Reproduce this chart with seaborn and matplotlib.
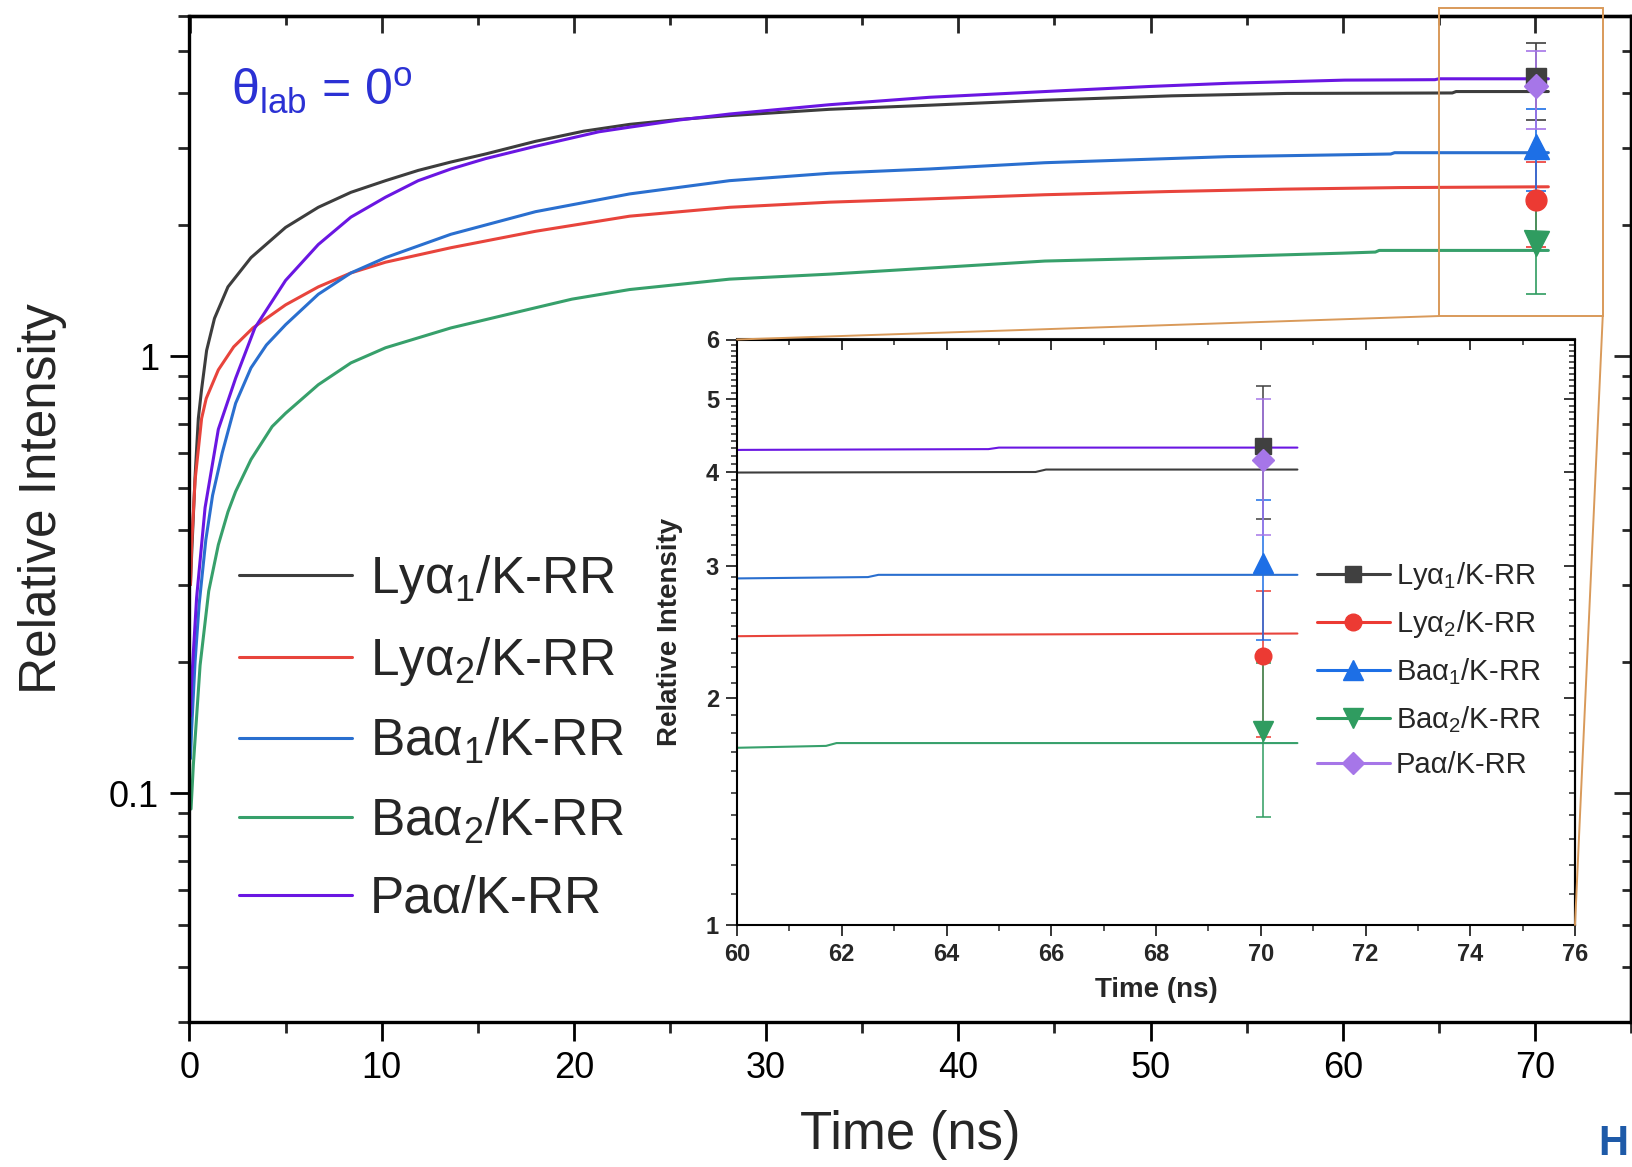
import numpy as np
import pandas as pd
import matplotlib
matplotlib.use("Agg")
import matplotlib.pyplot as plt
from matplotlib.lines import Line2D
from matplotlib.patches import Rectangle, ConnectionPatch
from matplotlib.ticker import (MultipleLocator, FixedLocator, LogLocator,
                               NullFormatter, FuncFormatter)
import seaborn as sns

# ------------------------------------------------------------------
# Data: simulated intensity ratios versus time (ns)
# ------------------------------------------------------------------
labels = ["Ly\u03b1$_{1}$/K-RR", "Ly\u03b1$_{2}$/K-RR", "Ba\u03b1$_{1}$/K-RR",
          "Ba\u03b1$_{2}$/K-RR", "Pa\u03b1/K-RR"]

t_ly1 = [0.05, 0.11, 0.29, 0.46, 0.63, 0.89, 1.3, 2.0, 3.2, 5.0, 6.7, 8.4, 10.2,
         11.9, 13.6, 15.4, 18.0, 20.5, 22.9, 25.5, 28.1, 33.3, 38.5, 44.5, 51.1,
         57.1, 65.7, 65.9, 70.7]
i_ly1 = [0.30, 0.35, 0.53, 0.72, 0.84, 1.03, 1.22, 1.44, 1.68, 1.97, 2.19, 2.37,
         2.52, 2.66, 2.78, 2.90, 3.10, 3.27, 3.39, 3.48, 3.55, 3.67, 3.75, 3.85,
         3.94, 3.99, 4.00, 4.03, 4.03]

t_ly2 = [0.05, 0.11, 0.29, 0.63, 0.87, 1.5, 2.3, 3.3, 5.0, 6.7, 8.4, 10.2, 13.6,
         18.0, 22.9, 28.1, 33.3, 38.5, 44.5, 51.0, 57.0, 63.0, 70.7]
i_ly2 = [0.30, 0.37, 0.52, 0.72, 0.80, 0.93, 1.05, 1.16, 1.31, 1.44, 1.55, 1.64,
         1.77, 1.93, 2.09, 2.19, 2.25, 2.29, 2.34, 2.38, 2.41, 2.43, 2.44]

t_ba1 = [0.05, 0.11, 0.29, 0.5, 0.85, 1.2, 1.7, 2.4, 3.2, 4.0, 5.0, 6.7, 8.4,
         10.2, 13.6, 18.0, 22.9, 28.1, 33.3, 38.5, 44.5, 54.0, 62.5, 62.7, 70.7]
i_ba1 = [0.12, 0.14, 0.20, 0.27, 0.38, 0.48, 0.60, 0.78, 0.94, 1.06, 1.18, 1.385,
         1.55, 1.68, 1.90, 2.14, 2.35, 2.52, 2.62, 2.68, 2.77, 2.86, 2.90, 2.92,
         2.92]

t_ba2 = [0.08, 0.2, 0.55, 1.0, 1.5, 2.0, 2.4, 3.2, 4.3, 5.0, 6.7, 8.4, 10.2,
         13.6, 18.0, 19.9, 22.9, 28.1, 33.3, 38.5, 44.5, 54.0, 60.0, 61.7, 61.9,
         70.7]
i_ba2 = [0.092, 0.116, 0.196, 0.29, 0.37, 0.44, 0.49, 0.58, 0.69, 0.74, 0.86,
         0.965, 1.045, 1.16, 1.29, 1.35, 1.42, 1.50, 1.54, 1.59, 1.65, 1.69,
         1.72, 1.73, 1.745, 1.745]

t_pa = [0.05, 0.11, 0.37, 0.81, 1.5, 2.4, 3.4, 5.0, 6.7, 8.4, 10.2, 11.9, 13.6,
        15.4, 18.0, 21.3, 22.9, 25.5, 28.1, 33.3, 38.5, 45.0, 50.0, 54.1, 60.1,
        64.8, 65.0, 70.7]
i_pa = [0.15, 0.18, 0.28, 0.45, 0.68, 0.89, 1.16, 1.49, 1.80, 2.08, 2.31, 2.52,
        2.68, 2.83, 3.02, 3.26, 3.34, 3.47, 3.58, 3.76, 3.91, 4.04, 4.14, 4.21,
        4.28, 4.29, 4.31, 4.31]

# measured ratios at the end of the observation window
t_meas = 70.05
meas_val = [4.33, 2.28, 3.03, 1.81, 4.15]
meas_err = [0.87, 0.50, 0.64, 0.42, 0.85]

# ------------------------------------------------------------------
# Styling
# ------------------------------------------------------------------
line_colors = ["#3d3d3d", "#e8443c", "#2a6fcf", "#37a06b", "#6a16e2"]
mark_colors = ["#404040", "#ec3a33", "#1d6fe6", "#2f9c60", "#a676e8"]
markers = ["s", "o", "^", "v", "D"]
ms_main = [15, 15, 18, 18, 12]
ms_inset = [11, 12, 15, 15, 11]
zoom_color = "#d99a5a"

sns.set_style("ticks")
plt.rcParams["font.family"] = ["Liberation Sans", "DejaVu Sans"]
plt.rcParams["mathtext.fontset"] = "custom"
plt.rcParams["mathtext.rm"] = "Liberation Sans"
plt.rcParams["mathtext.it"] = "Liberation Sans:italic"
plt.rcParams["mathtext.bf"] = "Liberation Sans:bold"

curves = pd.concat(
    [pd.DataFrame({"Time (ns)": t, "Relative Intensity": v, "ratio": lab})
     for lab, t, v in zip(labels,
                          [t_ly1, t_ly2, t_ba1, t_ba2, t_pa],
                          [i_ly1, i_ly2, i_ba1, i_ba2, i_pa])],
    ignore_index=True)
palette = dict(zip(labels, line_colors))

W, H = 1633, 1167
fig = plt.figure(figsize=(W / 100, H / 100), dpi=100)
fig.patch.set_facecolor("white")

# ------------------------------------------------------------------
# Main panel
# ------------------------------------------------------------------
ax = fig.add_axes([189.5 / W, 1 - 1021.7 / H, (1631 - 189.5) / W, (1021.7 - 16) / H])
sns.lineplot(data=curves, x="Time (ns)", y="Relative Intensity", hue="ratio",
             hue_order=labels, palette=palette, estimator=None, linewidth=2.2,
             legend=False, ax=ax)
ax.set_yscale("log")
ax.set_xlim(0, 75)
ax.set_ylim(0.03, 6)

for v, e, m, c, ms in zip(meas_val, meas_err, markers, mark_colors, ms_main):
    ax.errorbar(t_meas, v, yerr=e, fmt=m, color=c, ms=ms, mec=c,
                elinewidth=1.2, capsize=7, capthick=1.2, zorder=5)

ax.xaxis.set_major_locator(MultipleLocator(10))
ax.xaxis.set_minor_locator(MultipleLocator(5))
ax.yaxis.set_major_locator(LogLocator(base=10))
ax.yaxis.set_minor_locator(LogLocator(base=10, subs=np.arange(2, 10)))
ax.yaxis.set_major_formatter(FuncFormatter(lambda v, p: f"{v:g}"))
ax.yaxis.set_minor_formatter(NullFormatter())
ax.tick_params(which="major", direction="out", length=14, width=2, labelsize=26,
               colors="black")
ax.tick_params(axis="x", which="major", pad=7)
ax.tick_params(axis="y", which="major", pad=8)
ax.tick_params(which="minor", direction="out", length=8, width=2)
for s in ax.spines.values():
    s.set_linewidth(2.4)
    s.set_color("black")

secx = ax.secondary_xaxis("top")
secx.xaxis.set_major_locator(MultipleLocator(10))
secx.xaxis.set_minor_locator(MultipleLocator(5))
secx.xaxis.set_major_formatter(NullFormatter())
secx.tick_params(which="major", direction="in", length=12, width=2)
secx.tick_params(which="minor", direction="in", length=6.5, width=2)
secx.spines["top"].set_linewidth(2.4)

secy = ax.secondary_yaxis("right")
secy.yaxis.set_major_locator(LogLocator(base=10))
secy.yaxis.set_minor_locator(LogLocator(base=10, subs=np.arange(2, 10)))
secy.yaxis.set_major_formatter(NullFormatter())
secy.yaxis.set_minor_formatter(NullFormatter())
secy.tick_params(which="major", direction="in", length=12, width=2)
secy.tick_params(which="minor", direction="in", length=6.5, width=2)
secy.spines["right"].set_linewidth(2.4)

ax.set_xlabel("Time (ns)", fontsize=38)
ax.set_ylabel("Relative Intensity", fontsize=37)
ax.xaxis.label.set_va("center")
ax.yaxis.label.set_va("center")
ax.xaxis.set_label_coords(0.5, -0.1127)
ax.yaxis.set_label_coords(-0.1023, 0.5197)

ax.text(0.0288, 0.9105, "\u03b8$_{\\mathrm{lab}}$ = 0$^{\\mathrm{o}}$",
        transform=ax.transAxes, fontsize=36, color="#2b31d4",
        ha="left", va="baseline")

main_handles = [Line2D([], [], color=c, lw=2.2) for c in line_colors]
ax.legend(main_handles, labels, loc="upper left",
          bbox_to_anchor=(238.5 / W, 1 - 553 / H), bbox_transform=fig.transFigure,
          frameon=False, fontsize=37, handlelength=2.2, handletextpad=0.35,
          labelspacing=0.56, borderpad=0, borderaxespad=0)

# zoom window around the end of the time range
x0, x1, y0, y1 = 65.0, 73.53, 1.235, 6.25
ax.add_patch(Rectangle((x0, y0), x1 - x0, y1 - y0, fill=False,
                       edgecolor=zoom_color, lw=1.4, clip_on=False, zorder=6))

# ------------------------------------------------------------------
# Inset panel
# ------------------------------------------------------------------
axin = fig.add_axes([737 / W, 1 - 925 / H, (1575 - 737) / W, (925 - 339.5) / H])
axin.set_facecolor("white")
sns.lineplot(data=curves, x="Time (ns)", y="Relative Intensity", hue="ratio",
             hue_order=labels, palette=palette, estimator=None, linewidth=1.5,
             legend=False, ax=axin)
axin.set_yscale("log")
axin.set_xlim(60, 76)
axin.set_ylim(1, 6)

for v, e, m, c, ms in zip(meas_val, meas_err, markers, mark_colors, ms_inset):
    axin.errorbar(t_meas, v, yerr=e, fmt=m, color=c, ms=ms, mec=c,
                  elinewidth=1.1, capsize=5.4, capthick=1.1, zorder=5)

inset_major_y = [1, 2, 3, 4, 5, 6]
inset_minor_y = [v / 10 for v in range(11, 60) if v % 10]
axin.xaxis.set_major_locator(MultipleLocator(2))
axin.xaxis.set_minor_locator(MultipleLocator(1))
axin.yaxis.set_major_locator(FixedLocator(inset_major_y))
axin.yaxis.set_minor_locator(FixedLocator(inset_minor_y))
axin.yaxis.set_major_formatter(FuncFormatter(lambda v, p: f"{v:g}"))
axin.yaxis.set_minor_formatter(NullFormatter())
axin.tick_params(which="major", direction="out", length=8, width=1.3,
                 labelsize=17, pad=5)
axin.tick_params(which="minor", direction="out", length=4, width=1.1)
for lab in axin.get_xticklabels() + axin.get_yticklabels():
    lab.set_fontweight("bold")
for s in axin.spines.values():
    s.set_linewidth(1.5)
    s.set_color("black")

isecx = axin.secondary_xaxis("top")
isecx.xaxis.set_major_locator(MultipleLocator(2))
isecx.xaxis.set_minor_locator(MultipleLocator(1))
isecx.xaxis.set_major_formatter(NullFormatter())
isecx.tick_params(which="major", direction="in", length=8, width=1.3)
isecx.tick_params(which="minor", direction="in", length=4.5, width=1.1)
isecx.spines["top"].set_linewidth(1.5)

isecy = axin.secondary_yaxis("right")
isecy.yaxis.set_major_locator(FixedLocator(inset_major_y))
isecy.yaxis.set_minor_locator(FixedLocator(inset_minor_y))
isecy.yaxis.set_major_formatter(NullFormatter())
isecy.yaxis.set_minor_formatter(NullFormatter())
isecy.tick_params(which="major", direction="in", length=8, width=1.3)
isecy.tick_params(which="minor", direction="in", length=4, width=1.1)
isecy.spines["right"].set_linewidth(1.5)

axin.set_xlabel("Time (ns)", fontsize=20, fontweight="bold")
axin.set_ylabel("Relative Intensity", fontsize=20, fontweight="bold")
axin.xaxis.label.set_va("center")
axin.yaxis.label.set_va("center")
axin.xaxis.set_label_coords(0.5, -0.111)
axin.yaxis.set_label_coords(-0.0805, 0.5)

inset_handles = [Line2D([], [], color=c, lw=2.2, marker=m, ms=ms, mec=c)
                 for c, m, ms in zip(mark_colors, markers, ms_inset)]
axin.legend(inset_handles, labels, loc="upper left",
            bbox_to_anchor=(1317 / W, 1 - 560 / H), bbox_transform=fig.transFigure,
            frameon=False, fontsize=21, handlelength=2.5, handletextpad=0.2,
            labelspacing=0.56, borderpad=0, borderaxespad=0)

# connectors from the zoom window to the inset
for xy_main, xy_inset in [((x0, y0), (0, 1)), ((x1, y0), (1, 0))]:
    con = ConnectionPatch(xyA=xy_main, coordsA=ax.transData,
                          xyB=xy_inset, coordsB=axin.transAxes,
                          color=zoom_color, lw=1.4, zorder=7)
    fig.add_artist(con)

fig.text(1628 / W, 1 - 1164 / H, "H", fontsize=30, fontweight="bold",
         color="#1e5aa8", ha="right", va="bottom")

fig.savefig("out.png", dpi=100)
